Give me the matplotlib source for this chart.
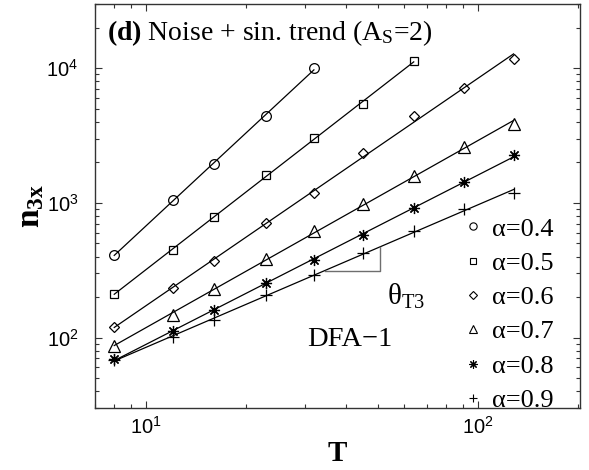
import numpy as np
import matplotlib
matplotlib.use("Agg")
import matplotlib.pyplot as plt
from matplotlib.lines import Line2D

# Fonts: sans for the tick labels, serif (Times-like) for the rest
plt.rcParams["font.family"] = "Liberation Sans"
plt.rcParams["mathtext.fontset"] = "custom"
plt.rcParams["mathtext.rm"] = "Liberation Serif"
plt.rcParams["mathtext.it"] = "Liberation Serif:italic"
plt.rcParams["mathtext.bf"] = "Liberation Serif:bold"
SERIF = "Liberation Serif"

# Data
T = [8, 12, 16, 23, 32, 45, 64, 91, 128]
n_a04 = [412, 1050, 1935, 4400, 10100]
n_a05 = [211, 447, 787, 1603, 3047, 5470, 11270]
n_a06 = [119, 233, 372, 707, 1175, 2360, 4404, 7190, 11660]
n_a07 = [86, 148, 230, 383, 621, 978, 1585, 2600, 3863]
n_a08 = [69.5, 111, 161, 254, 379, 577, 914, 1439, 2254]
n_a09 = [67.6, 101.7, 135, 207, 291, 428, 621, 898, 1192]
labels = ["α=0.4", "α=0.5", "α=0.6", "α=0.7", "α=0.8", "α=0.9"]

series = [n_a04, n_a05, n_a06, n_a07, n_a08, n_a09]
markers = ["o", "s", "D", "^", (8, 2, 0), "+"]
msizes = [7, 6, 5, 8, 8, 8]

fig = plt.figure(figsize=(5.89, 4.70), dpi=100)
ax = fig.add_axes([0.1613, 0.1319, 0.8234, 0.8596])

fits = []
for n, m, ms in zip(series, markers, msizes):
    t = np.array(T[:len(n)], dtype=float)
    y = np.array(n, dtype=float)
    # straight fit in log-log through the points
    k, b = np.polyfit(np.log10(t), np.log10(y), 1)
    fits.append((k, b))
    ax.plot(t, 10 ** (k * np.log10(t) + b), "-", color="black", lw=0.9)
    ax.plot(t, y, linestyle="none", marker=m, ms=ms, mfc="none",
            mec="black", mew=0.9)

# slope triangle under the alpha=0.9 line
k, b = fits[-1]
tx0, tx1 = 34.5, 50.6
y0 = 10 ** (k * np.log10(tx0) + b)
y1 = 10 ** (k * np.log10(tx1) + b)
ax.plot([tx0, tx1, tx1], [y0, y0, y1], color="#6e6e6e", lw=1.0)

ax.set_xscale("log")
ax.set_yscale("log")
ax.set_xlim(7, 203)
ax.set_ylim(30, 30000)

ax.tick_params(which="both", direction="in", top=True, right=True,
               labelsize=14.5, width=0.8, color="#333333")
ax.tick_params(which="major", length=5)
ax.tick_params(which="minor", length=3)
ax.tick_params(axis="x", which="major", pad=6)
ax.tick_params(axis="y", which="major", pad=12)
for s in ax.spines.values():
    s.set_linewidth(1.0)
    s.set_color("#333333")

ax.set_xlabel("T", fontfamily=SERIF, fontweight="bold", fontsize=21, labelpad=1)
ax.set_ylabel(r"$\mathbf{n_{3x}}$", fontsize=24, labelpad=0)

ax.text(0.024, 0.911, r"$\mathbf{(d)}$ Noise + sin. trend (A$_\mathrm{S}$=2)",
        transform=ax.transAxes, fontfamily=SERIF, fontsize=20)
ax.text(0.4365, 0.153, "DFA\u22121", transform=ax.transAxes,
        fontfamily=SERIF, fontsize=20.5)
ax.text(0.603, 0.255, r"θ$_\mathrm{T3}$", transform=ax.transAxes,
        fontfamily=SERIF, fontsize=21)

handles = [Line2D([], [], linestyle="none", marker=m, ms=ms * 0.75, mfc="none",
                  mec="black", mew=0.8) for m, ms in zip(markers, msizes)]
ax.legend(handles, labels, loc="lower left", bbox_to_anchor=(0.763, -0.01),
          frameon=False, prop={"family": SERIF, "size": 19},
          handlelength=0.6, handletextpad=0.42, labelspacing=0.41,
          borderpad=0, borderaxespad=0)

plt.savefig("out.png", dpi=100)
